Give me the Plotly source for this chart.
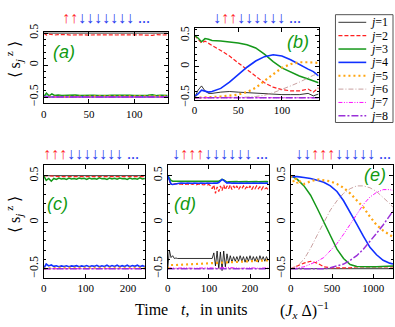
import plotly.graph_objects as go

W, H = 395, 327

# ---------------- panel (a): up-up-down... ----------------
t_a = [0, 3, 6, 9, 12, 16, 20, 25, 30, 35, 40, 45, 50, 55, 60, 65, 70, 75, 80, 85,
       90, 95, 100, 105, 110, 115, 120, 125, 130, 137]
a1 = [0.5, 0.5, 0.5, 0.499, 0.5, 0.5, 0.499, 0.5, 0.5, 0.5, 0.499, 0.5, 0.5, 0.5, 0.5,
      0.499, 0.5, 0.5, 0.5, 0.5, 0.499, 0.5, 0.5, 0.5, 0.5, 0.5, 0.499, 0.5, 0.5, 0.5]
a2 = [0.5, 0.47, 0.485, 0.475, 0.47, 0.478, 0.472, 0.476, 0.47, 0.475, 0.472, 0.474, 0.47,
      0.476, 0.472, 0.474, 0.47, 0.475, 0.471, 0.474, 0.47, 0.476, 0.472, 0.474, 0.47,
      0.475, 0.465, 0.478, 0.47, 0.474]
a3 = [-0.5, -0.44, -0.48, -0.45, -0.475, -0.47, -0.478, -0.472, -0.476, -0.47, -0.477,
      -0.473, -0.478, -0.472, -0.476, -0.471, -0.477, -0.473, -0.476, -0.47, -0.477,
      -0.474, -0.476, -0.471, -0.477, -0.473, -0.465, -0.478, -0.472, -0.476]
a4 = [-0.5, -0.49, -0.5, -0.495, -0.5, -0.496, -0.5, -0.497, -0.5, -0.496, -0.5, -0.497,
      -0.5, -0.495, -0.5, -0.497, -0.5, -0.496, -0.5, -0.497, -0.5, -0.496, -0.5, -0.497,
      -0.5, -0.496, -0.5, -0.497, -0.5, -0.5]
t_a_flat = [0, 30, 60, 90, 120, 137]
a5 = [-0.5, -0.49, -0.49, -0.49, -0.49, -0.49]
a6 = [-0.5, -0.5, -0.5, -0.5, -0.5, -0.5]
a7 = [-0.5, -0.5, -0.5, -0.5, -0.5, -0.5]
a8 = [-0.5, -0.5, -0.5, -0.5, -0.5, -0.5]

# ---------------- panel (b): down-up-up-down... ----------------
t_b = [0, 4, 8, 12, 16, 20, 30, 40, 50, 60, 70, 80, 90, 100, 110, 120, 130, 136, 142]
b1 = [-0.5, -0.38, -0.31, -0.39, -0.43, -0.43, -0.41, -0.4, -0.41, -0.42, -0.43, -0.44,
      -0.44, -0.45, -0.45, -0.45, -0.43, -0.47, -0.44]
b2 = [0.5, 0.44, 0.38, 0.41, 0.38, 0.34, 0.26, 0.17, 0.06, -0.05, -0.16, -0.26, -0.33,
      -0.37, -0.39, -0.39, -0.36, -0.41, -0.34]
b3 = [0.5, 0.46, 0.4, 0.45, 0.44, 0.42, 0.41, 0.4, 0.38, 0.35, 0.3, 0.2, 0.08, -0.02,
      -0.09, -0.15, -0.2, -0.23, -0.26]
b4 = [-0.48, -0.44, -0.38, -0.4, -0.41, -0.4, -0.35, -0.25, -0.13, -0.01, 0.09, 0.16,
      0.19, 0.17, 0.11, 0.03, -0.04, -0.08, -0.15]
b5 = [-0.5, -0.5, -0.49, -0.49, -0.49, -0.49, -0.48, -0.47, -0.45, -0.41, -0.34, -0.23,
      -0.12, -0.02, 0.04, 0.07, 0.07, 0.07, 0.06]
b6 = [-0.5, -0.5, -0.5, -0.5, -0.5, -0.5, -0.5, -0.5, -0.5, -0.49, -0.48, -0.46, -0.42,
      -0.37, -0.31, -0.25, -0.18, -0.14, -0.11]
b7 = [-0.5, -0.5, -0.5, -0.5, -0.5, -0.5, -0.5, -0.5, -0.5, -0.5, -0.5, -0.5, -0.5,
      -0.5, -0.5, -0.5, -0.5, -0.5, -0.5]
b8 = [-0.5, -0.5, -0.5, -0.5, -0.5, -0.5, -0.5, -0.5, -0.5, -0.5, -0.5, -0.5, -0.5,
      -0.5, -0.5, -0.5, -0.5, -0.5, -0.5]

# ---------------- panel (c): up-up-up-down... ----------------
t_c = [0, 6, 12, 18, 24, 30, 36, 42, 48, 54, 60, 66, 72, 78, 84, 90, 96, 102, 108, 114,
       120, 126, 132, 138, 144, 150, 156, 162, 168, 174, 180, 186, 192, 198, 204, 210,
       216, 222, 228, 234, 240]
c3 = [0.5, 0.45, 0.47, 0.44, 0.47, 0.46, 0.475, 0.465, 0.47, 0.46, 0.475, 0.465, 0.47,
      0.462, 0.475, 0.466, 0.472, 0.46, 0.474, 0.465, 0.47, 0.462, 0.476, 0.466, 0.47,
      0.46, 0.475, 0.465, 0.472, 0.462, 0.474, 0.466, 0.47, 0.46, 0.475, 0.465, 0.47,
      0.462, 0.476, 0.465, 0.47]
c4 = [-0.5, -0.45, -0.47, -0.46, -0.475, -0.468, -0.478, -0.47, -0.476, -0.468, -0.478,
      -0.47, -0.475, -0.467, -0.478, -0.47, -0.476, -0.466, -0.478, -0.469, -0.475,
      -0.464, -0.479, -0.468, -0.476, -0.463, -0.478, -0.466, -0.475, -0.462, -0.479,
      -0.467, -0.476, -0.463, -0.478, -0.466, -0.474, -0.462, -0.479, -0.467, -0.476]
t_c_flat = [0, 40, 80, 120, 160, 200, 240]
c1 = [0.5, 0.5, 0.5, 0.5, 0.5, 0.5, 0.5]
c2 = [0.5, 0.49, 0.49, 0.49, 0.49, 0.49, 0.49]
c5 = [-0.5, -0.49, -0.49, -0.49, -0.49, -0.49, -0.49]
c6 = [-0.5, -0.5, -0.5, -0.5, -0.5, -0.5, -0.5]
c7 = [-0.5, -0.5, -0.5, -0.5, -0.5, -0.5, -0.5]
c8 = [-0.5, -0.5, -0.5, -0.5, -0.5, -0.5, -0.5]

# ---------------- panel (d): down-up-up-up-down... ----------------
t_d = [0, 4, 8, 12, 16, 20, 24, 28, 32, 36, 40, 44, 48, 52, 56, 60, 64, 68, 72, 76, 80,
       84, 88, 92, 96, 100, 104, 108, 112, 116, 120, 124, 128, 132, 136, 140, 144, 148,
       152, 156, 160, 164, 168, 172, 176, 180, 184, 188, 192, 196, 200, 204, 208, 212,
       216, 220, 224, 228, 232, 236, 240, 244]
d1 = [-0.5, -0.3, -0.38, -0.36, -0.39, -0.385, -0.39, -0.39, -0.385, -0.39, -0.39,
      -0.388, -0.39, -0.39, -0.385, -0.39, -0.39, -0.388, -0.39, -0.39, -0.385, -0.39,
      -0.39, -0.388, -0.39, -0.39, -0.385, -0.39, -0.33, -0.47, -0.31, -0.5, -0.32,
      -0.52, -0.31, -0.48, -0.34, -0.44, -0.36, -0.43, -0.37, -0.42, -0.37, -0.42,
      -0.36, -0.42, -0.37, -0.43, -0.37, -0.42, -0.36, -0.42, -0.37, -0.42, -0.37,
      -0.43, -0.36, -0.41, -0.37, -0.42, -0.37, -0.41]
d2 = [0.5, 0.44, 0.41, 0.42, 0.41, 0.415, 0.41, 0.405, 0.41, 0.405, 0.41, 0.405, 0.41,
      0.4, 0.41, 0.405, 0.41, 0.4, 0.405, 0.41, 0.4, 0.405, 0.4, 0.41, 0.4, 0.405, 0.39,
      0.36, 0.4, 0.31, 0.38, 0.33, 0.39, 0.34, 0.4, 0.35, 0.39, 0.36, 0.4, 0.35, 0.39,
      0.36, 0.39, 0.35, 0.38, 0.36, 0.39, 0.36, 0.38, 0.36, 0.39, 0.35, 0.38, 0.36,
      0.39, 0.36, 0.38, 0.35, 0.38, 0.36, 0.37, 0.35]
d3 = [0.5, 0.47, 0.45, 0.44, 0.44, 0.442, 0.44, 0.438, 0.44, 0.442, 0.44, 0.438, 0.44,
      0.442, 0.44, 0.438, 0.44, 0.442, 0.44, 0.438, 0.44, 0.442, 0.44, 0.438, 0.44,
      0.442, 0.44, 0.438, 0.44, 0.442, 0.44, 0.44, 0.45, 0.46, 0.455, 0.44, 0.43,
      0.435, 0.437, 0.435, 0.437, 0.435, 0.437, 0.435, 0.437, 0.435, 0.437, 0.435,
      0.437, 0.435, 0.437, 0.435, 0.437, 0.435, 0.437, 0.435, 0.437, 0.435, 0.437,
      0.435, 0.437, 0.435]
d4 = [0.5, 0.45, 0.41, 0.405, 0.41, 0.415, 0.42, 0.418, 0.42, 0.418, 0.42, 0.418, 0.42,
      0.418, 0.42, 0.418, 0.42, 0.418, 0.42, 0.418, 0.42, 0.418, 0.42, 0.418, 0.42,
      0.418, 0.42, 0.418, 0.42, 0.418, 0.42, 0.425, 0.44, 0.46, 0.45, 0.43, 0.42, 0.425,
      0.42, 0.418, 0.42, 0.418, 0.42, 0.418, 0.42, 0.418, 0.42, 0.418, 0.42, 0.418,
      0.42, 0.418, 0.42, 0.418, 0.42, 0.418, 0.42, 0.418, 0.42, 0.418, 0.42, 0.418]
t_d_flat = [0, 8, 20, 40, 60, 80, 100, 120, 140, 160, 180, 200, 220, 244]
d5 = [-0.5, -0.46, -0.46, -0.455, -0.45, -0.45, -0.44, -0.44, -0.43, -0.43, -0.42,
      -0.42, -0.41, -0.41]
d6 = [-0.5, -0.5, -0.5, -0.5, -0.5, -0.5, -0.5, -0.5, -0.5, -0.5, -0.5, -0.5, -0.5, -0.5]
d7 = [-0.5, -0.49, -0.495, -0.49, -0.495, -0.49, -0.49, -0.495, -0.485, -0.49, -0.495,
      -0.49, -0.495, -0.49]
d8 = [-0.5, -0.5, -0.5, -0.5, -0.5, -0.5, -0.5, -0.5, -0.5, -0.5, -0.5, -0.5, -0.5, -0.5]

# ---------------- panel (e): down-down-up-up-up-down... ----------------
t_e = [0, 80, 160, 240, 320, 400, 480, 560, 640, 720, 800, 880, 960, 1040, 1120, 1200,
       1240]
e1 = [-0.5, -0.5, -0.5, -0.5, -0.5, -0.5, -0.5, -0.5, -0.5, -0.5, -0.5, -0.5, -0.5,
      -0.5, -0.5, -0.5, -0.5]
e2 = [-0.5, -0.47, -0.44, -0.42, -0.44, -0.48, -0.49, -0.49, -0.49, -0.49, -0.48,
      -0.48, -0.48, -0.48, -0.48, -0.48, -0.48]
e3 = [0.5, 0.46, 0.39, 0.29, 0.15, 0.0, -0.15, -0.29, -0.39, -0.455, -0.475, -0.48,
      -0.48, -0.48, -0.475, -0.47, -0.47]
e4 = [0.49, 0.49, 0.48, 0.47, 0.45, 0.43, 0.39, 0.33, 0.23, 0.11, -0.02, -0.15, -0.27,
      -0.35, -0.41, -0.44, -0.45]
t_e5 = [0, 20, 40, 60, 80, 100, 120, 160, 240, 320, 400, 480, 560, 640, 720, 800, 880,
        960, 1040, 1120, 1200, 1240]
e5 = [0.5, 0.46, 0.43, 0.47, 0.42, 0.45, 0.43, 0.41, 0.44, 0.46, 0.45, 0.44, 0.41, 0.37,
      0.31, 0.24, 0.16, 0.06, -0.03, -0.09, -0.14, -0.16]
e6 = [-0.5, -0.47, -0.4, -0.28, -0.14, 0.0, 0.13, 0.23, 0.31, 0.36, 0.39, 0.39, 0.37,
      0.33, 0.27, 0.2, 0.16]
e7 = [-0.5, -0.49, -0.48, -0.45, -0.42, -0.38, -0.31, -0.23, -0.13, -0.02, 0.09, 0.19,
      0.27, 0.32, 0.35, 0.35, 0.34]
e8 = [-0.5, -0.5, -0.5, -0.5, -0.5, -0.5, -0.49, -0.47, -0.45, -0.41, -0.36, -0.29,
      -0.21, -0.12, -0.03, 0.07, 0.12]

spin_labels = ["j=1", "j=2", "j=3", "j=4", "j=5", "j=6", "j=7", "j=8"]

# line style per site j
STYLE = {
    1: dict(color="#000000", width=0.8, dash="solid"),
    2: dict(color="#ff2020", width=1.2, dash="4px,2px"),
    3: dict(color="#15981a", width=1.5, dash="solid"),
    4: dict(color="#1030ff", width=1.6, dash="solid"),
    5: dict(color="#ffa510", width=2.2, dash="2px,3px"),
    6: dict(color="#c8a0a0", width=1.0, dash="5px,2px,1px,2px"),
    7: dict(color="#ff10ff", width=1.0, dash="4px,1.5px,1px,1.5px,1px,1.5px"),
    8: dict(color="#9a30d8", width=1.5, dash="7px,2px,2px,2px"),
}

panels = [
    ("", [(t_a, a1), (t_a, a2), (t_a, a3), (t_a, a4), (t_a_flat, a5), (t_a_flat, a6),
          (t_a_flat, a7), (t_a_flat, a8)]),
    ("2", [(t_b, b1), (t_b, b2), (t_b, b3), (t_b, b4), (t_b, b5), (t_b, b6), (t_b, b7),
           (t_b, b8)]),
    ("3", [(t_c_flat, c1), (t_c_flat, c2), (t_c, c3), (t_c, c4), (t_c_flat, c5),
           (t_c_flat, c6), (t_c_flat, c7), (t_c_flat, c8)]),
    ("4", [(t_d, d1), (t_d, d2), (t_d, d3), (t_d, d4), (t_d_flat, d5), (t_d_flat, d6),
           (t_d_flat, d7), (t_d_flat, d8)]),
    ("5", [(t_e, e1), (t_e, e2), (t_e, e3), (t_e, e4), (t_e5, e5), (t_e, e6), (t_e, e7),
           (t_e, e8)]),
]

fig = go.Figure()
for suffix, series in panels:
    for j, (t, y) in enumerate(series, start=1):
        fig.add_trace(go.Scatter(x=t, y=y, mode="lines", line=STYLE[j],
                                 xaxis="x" + suffix, yaxis="y" + suffix,
                                 showlegend=False, hoverinfo="skip"))


def px_x(a, b):
    return [a / W, b / W]


def px_y(top, bottom):
    return [1 - bottom / H, 1 - top / H]


def xax(dom, rng, dtick, anchor):
    return dict(domain=dom, range=rng, dtick=dtick, tick0=0, anchor=anchor,
                ticks="inside", ticklen=4, tickcolor="black", mirror="allticks",
                showline=True, linecolor="black", linewidth=1, showgrid=False,
                zeroline=False, fixedrange=True,
                tickfont=dict(family="Liberation Serif", size=11, color="black"))


def yax(dom, rng, anchor):
    return dict(domain=dom, range=rng, tickvals=[-0.5, 0, 0.5], ticktext=["−0.5", "0", "0.5"],
                anchor=anchor, tickangle=-90,
                ticks="inside", ticklen=4, tickcolor="black", mirror="allticks",
                showline=True, linecolor="black", linewidth=1, showgrid=False,
                zeroline=False, fixedrange=True,
                tickfont=dict(family="Liberation Serif", size=12, color="black"),
                minor=dict(dtick=0.1, tick0=0, ticks="inside", ticklen=2, tickcolor="black"))


row2 = px_y(165, 283)
fig.update_layout(
    xaxis=xax(px_x(41, 166), [0, 137], 50, "y"),
    yaxis=yax(px_y(25, 100), [-0.6, 0.52], "x"),
    xaxis2=xax(px_x(193, 318), [0, 142], 50, "y2"),
    yaxis2=yax(px_y(21, 96), [-0.53, 0.62], "x2"),
    xaxis3=xax(px_x(41, 143), [0, 240], 100, "y3"),
    yaxis3=yax(row2, [-0.6, 0.61], "x3"),
    xaxis4=xax(px_x(166, 268), [0, 246], 100, "y4"),
    yaxis4=yax(row2, [-0.6, 0.61], "x4"),
    xaxis5=xax(px_x(290, 393), [0, 1240], 500, "y5"),
    yaxis5=yax(row2, [-0.6, 0.61], "x5"),
)

ann = []
shapes = []


def paper_text(x, y, text, size, color="black", family="Liberation Serif", angle=0,
               xanchor="center"):
    ann.append(dict(x=x / W, y=1 - y / H, xref="paper", yref="paper", text=text,
                    showarrow=False, xanchor=xanchor, yanchor="middle", textangle=angle,
                    font=dict(family=family, size=size, color=color)))


RED = "#ff3030"
BLUE = "#2a3cf0"


def spins(pattern):
    out = ""
    for ch in pattern:
        if ch == "u":
            out += '<span style="color:%s">↑</span>' % RED
        else:
            out += '<span style="color:%s">↓</span>' % BLUE
    return out + '<span style="color:%s"> ...</span>' % BLUE


# initial spin configurations above each panel
paper_text(104, 10, spins("uuddddddd"), 16)
paper_text(256, 10, spins("duudddddd"), 16)
paper_text(89, 153, spins("uuuddddddd"), 16)
paper_text(219, 153, spins("duuudddddd"), 16)
paper_text(343, 153, spins("dduuuddddd"), 16)

# panel tags
GREEN = "#129a12"
for x, y, tag in [(61, 46, "a"), (297, 36, "b"), (55, 205, "c"), (183, 205, "d"),
                  (375, 175, "e")]:
    paper_text(x, y, "<i>(%s)</i>" % tag, 18, GREEN, "Liberation Sans")

# axis titles
paper_text(11, 54, "⟨ s<sub><i>j</i></sub><sup> z</sup> ⟩", 16, angle=-90)
paper_text(11, 216, "⟨ s<sub><i>j</i></sub><sup> z</sup> ⟩", 16, angle=-90)
paper_text(131, 316, "Time", 16, xanchor="left")
paper_text(177, 316, "<i>t</i>,", 16, xanchor="left")
paper_text(196, 316, "in units", 16, xanchor="left")
paper_text(277, 316, "(<i>J</i><sub><i>x</i></sub> Δ)<sup>−1</sup>", 16, xanchor="left")

# legend box drawn by hand (tight row spacing)
shapes.append(dict(type="rect", xref="paper", yref="paper", x0=335 / W, x1=393 / W,
                   y0=1 - 120 / H, y1=1 - 7 / H, line=dict(color="#555555", width=1)))
for j in range(1, 9):
    yy = 15 + 14 * (j - 1)
    st = STYLE[j]
    shapes.append(dict(type="line", xref="paper", yref="paper", x0=338 / W, x1=366 / W,
                       y0=1 - yy / H, y1=1 - yy / H,
                       line=dict(color=st["color"], width=st["width"], dash=st["dash"])))
    lab = spin_labels[j - 1]
    paper_text(368, yy, "<i>%s</i>=%s" % (lab[0], lab[2]), 12, xanchor="left")

fig.update_layout(
    width=W, height=H, margin=dict(l=0, r=0, t=0, b=0),
    paper_bgcolor="white", plot_bgcolor="white",
    annotations=ann, shapes=shapes, showlegend=False,
)

fig.write_html("out.html", config={"displayModeBar": False},
               post_script="document.body.style.margin='0';")
